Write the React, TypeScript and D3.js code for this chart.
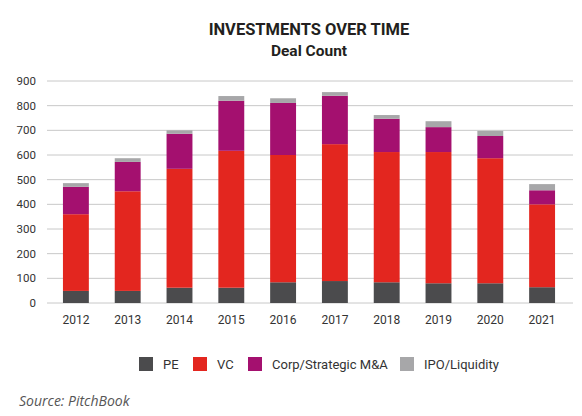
import React from "react";
import * as d3 from "d3";

const years = ["2012","2013","2014","2015","2016","2017","2018","2019","2020","2021"];
const pe = [49, 49, 62, 62, 84, 89, 84, 80, 80, 64];
const vc = [311, 404, 482, 555, 516, 555, 528, 532, 507, 336];
const corp = [111, 119, 142, 203, 211, 196, 135, 101, 90, 57];
const ipo = [15, 15, 14, 19, 19, 15, 15, 24, 21, 25];
const seriesNames = ["PE", "VC", "Corp/Strategic M&A", "IPO/Liquidity"];
const yTicks = [0, 100, 200, 300, 400, 500, 600, 700, 800, 900];
const colors = ["#4b4b4d", "#e3261f", "#a4106f", "#a7a7a9"];

const W = 582, H = 416;

export default function App() {
  const rows = years.map((y, i) => ({ year: y, PE: pe[i], VC: vc[i], "Corp/Strategic M&A": corp[i], "IPO/Liquidity": ipo[i] }));
  const stack = d3.stack<any>().keys(seriesNames)(rows);
  const x = d3.scaleBand().domain(years).range([50, 568]).paddingInner(0.5).paddingOuter(0.25);
  const y = d3.scaleLinear().domain([0, 900]).range([303, 81]);
  const font = "Roboto, 'DejaVu Sans', sans-serif";
  const legendX = [139, 193, 248, 400];
  return (
    <svg width={W} height={H} style={{ position: "absolute", left: 0, top: 0, background: "#fff" }}>
      <text x={309} y={35} textAnchor="middle" fontFamily={font} fontWeight={700} fontSize={16.5} fill="#231f20">INVESTMENTS OVER TIME</text>
      <text x={309} y={55.5} textAnchor="middle" fontFamily={font} fontWeight={700} fontSize={15.5} fill="#231f20">Deal Count</text>
      {yTicks.map(t => (
        <g key={t}>
          <line x1={47} x2={573} y1={y(t)} y2={y(t)} stroke="#c8c8c8" strokeWidth={1} />
          <text x={36} y={y(t)} dy="0.35em" textAnchor="end" fontFamily={font} fontSize={11.5} fill="#333">{t}</text>
        </g>
      ))}
      {stack.map((s, si) => (
        <g key={s.key} fill={colors[si]}>
          {s.map((d, i) => (
            <rect key={i} x={x(years[i])} width={x.bandwidth()} y={y(d[1])} height={y(d[0]) - y(d[1])} />
          ))}
        </g>
      ))}
      {years.map(yr => (
        <text key={yr} x={(x(yr) as number) + x.bandwidth() / 2} y={324} textAnchor="middle" fontFamily={font} fontSize={12} fill="#333">{yr}</text>
      ))}
      {seriesNames.map((n, i) => (
        <g key={n}>
          <rect x={legendX[i]} y={357} width={14} height={14} fill={colors[i]} />
          <text x={legendX[i] + 24} y={368.5} fontFamily={font} fontSize={13} fill="#333">{n}</text>
        </g>
      ))}
      <text x={19} y={406} fontFamily="'Open Sans', sans-serif" fontStyle="italic" fontSize={14} fill="#555">Source: PitchBook</text>
    </svg>
  );
}
